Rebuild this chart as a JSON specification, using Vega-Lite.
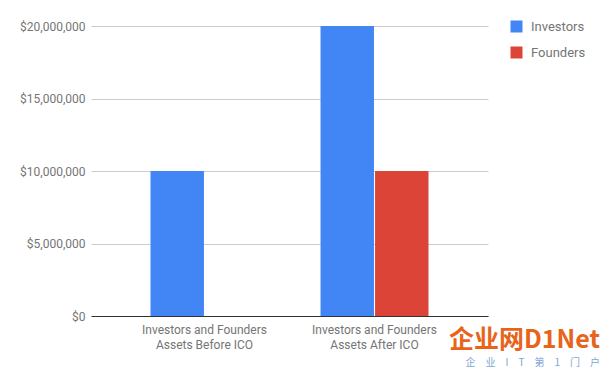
{
  "$schema": "https://vega.github.io/schema/vega-lite/v6.json",
  "width": 397,
  "height": 290,
  "autosize": {"type": "none"},
  "padding": {"left": 91, "top": 26, "right": 112, "bottom": 55},
  "background": "white",
  "title": {
    "text": "企业网D1Net",
    "subtitle": "企　业　I　T　第　1　门　户",
    "orient": "bottom",
    "anchor": "end",
    "frame": "group",
    "font": "Noto Sans CJK SC",
    "fontSize": 25,
    "fontWeight": "bold",
    "color": "#E8641B",
    "subtitleFont": "Noto Sans CJK SC",
    "subtitleFontSize": 10,
    "subtitleColor": "#7EA6D6",
    "subtitlePadding": 5,
    "dx": 112,
    "offset": -22
  },
  "data": {
    "values": [
      {"stage": "Investors and Founders\nAssets Before ICO", "series": "Investors", "value": 10000000},
      {"stage": "Investors and Founders\nAssets Before ICO", "series": "Founders", "value": 0},
      {"stage": "Investors and Founders\nAssets After ICO", "series": "Investors", "value": 20000000},
      {"stage": "Investors and Founders\nAssets After ICO", "series": "Founders", "value": 10000000}
    ]
  },
  "mark": {"type": "bar"},
  "encoding": {
    "x": {
      "field": "stage",
      "type": "nominal",
      "sort": null,
      "scale": {"paddingInner": 0.365, "paddingOuter": 0.35},
      "axis": {
        "title": null,
        "labelAngle": 0,
        "labelExpr": "split(datum.label, '\\n')",
        "labelFont": "Roboto",
        "labelFontSize": 12,
        "labelColor": "#757575",
        "labelPadding": 8,
        "labelLineHeight": 15,
        "ticks": false,
        "domainColor": "#333333",
        "domainWidth": 1,
        "grid": false
      }
    },
    "xOffset": {
      "field": "series",
      "type": "nominal",
      "sort": ["Investors", "Founders"],
      "scale": {"paddingInner": 0.02}
    },
    "y": {
      "field": "value",
      "type": "quantitative",
      "scale": {"domain": [0, 20000000], "nice": false},
      "axis": {
        "title": null,
        "values": [0, 5000000, 10000000, 15000000, 20000000],
        "format": "$,.0f",
        "labelFont": "Roboto",
        "labelFontSize": 12,
        "labelColor": "#757575",
        "labelPadding": 6,
        "ticks": false,
        "domain": false,
        "gridColor": "#CCCCCC",
        "gridWidth": 1
      }
    },
    "color": {
      "field": "series",
      "type": "nominal",
      "sort": ["Investors", "Founders"],
      "scale": {"domain": ["Investors", "Founders"], "range": ["#4285F4", "#DB4437"]},
      "legend": {
        "title": null,
        "orient": "none",
        "legendX": 419,
        "legendY": -6,
        "symbolType": "square",
        "symbolSize": 144,
        "symbolStrokeWidth": 0,
        "symbolOpacity": 1,
        "labelFont": "Roboto",
        "labelFontSize": 13,
        "labelColor": "#757575",
        "labelOffset": 8,
        "rowPadding": 12
      }
    }
  },
  "config": {
    "view": {"stroke": null}
  }
}
